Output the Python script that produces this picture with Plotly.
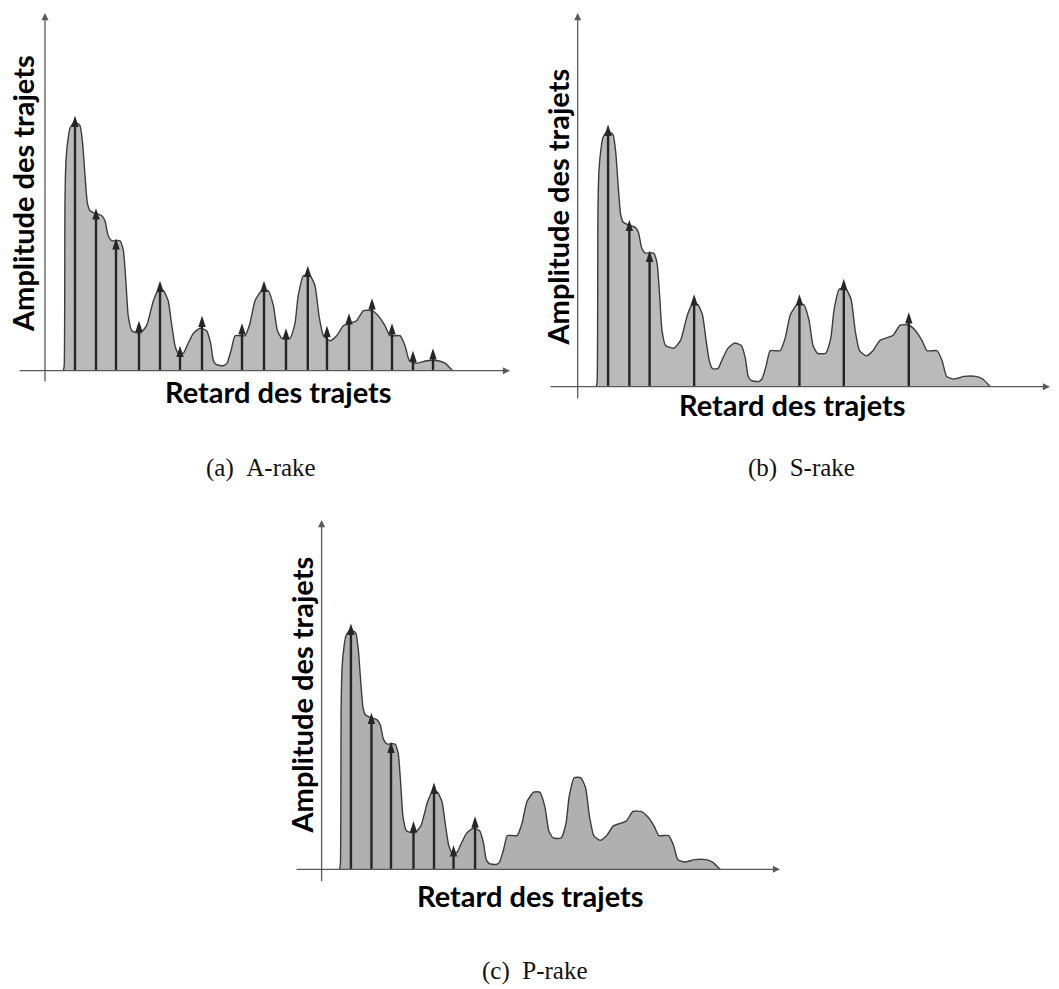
import plotly.graph_objects as go

# ---------------- data ----------------
# power-delay profile (arbitrary delay units, amplitude units)
delay = [4.6, 4.8, 5.0, 5.25, 5.7, 6.25, 7.1, 7.9, 8.75, 9.4, 10.0, 10.6, 11.25, 12.5, 14.2,
         15.0, 15.8, 16.7, 18.75, 19.6, 20.25, 20.8, 21.7, 23.75, 25.4, 27.1, 28.3, 29.6, 30.8,
         31.7, 32.5, 33.3, 34.6, 35.8, 37.1, 38.75, 40.4, 41.4, 42.1, 42.9, 44.6, 45.5, 46.5,
         47.5, 48.75, 50.0, 51.25, 52.5, 54.2, 55.8, 57.1, 58.1, 59.2, 61.25, 62.5, 63.3, 64.6,
         66.25, 67.5, 68.5, 69.6, 71.25, 72.9, 74.6, 76.25, 77.9, 79.6, 81.7, 83.3, 85.0, 86.25,
         88.75, 90.0, 91.1, 92.9, 95.4, 98.3, 100.0, 101.9]
amplitude = [0, 2, 68, 84, 92, 97, 99, 99, 98, 91, 78, 67, 64, 63, 62,
             60, 54, 52, 52, 48, 35, 22, 16, 15, 18, 28, 32, 32, 28,
             18, 10, 7, 7, 11, 15, 17, 16, 11, 4, 2.4, 2, 3, 8,
             14, 14, 14, 19, 28, 32, 32, 26, 16, 13, 13, 19, 30, 38,
             38, 34, 22, 14, 12, 14, 18, 19, 20, 24, 24, 22, 18, 14,
             14, 10, 4, 3, 4, 4, 3, 0]

# rake fingers (delay, amplitude at arrow tip)
a_rake_delay = [7.5, 12.75, 17.75, 23.5, 28.75, 33.75, 39.25, 49.25, 54.75, 60.25, 65.7, 70.5,
                76.0, 81.75, 86.75, 92.0, 97.0]
a_rake_amp = [102, 65, 53, 20, 36, 10, 22, 19, 36, 17, 42, 18, 23, 29, 19, 8, 9]
s_rake_delay = [7.5, 12.75, 17.75, 28.75, 54.75, 65.7, 81.75]
s_rake_amp = [102, 65, 53, 36, 36, 42, 29]
p_rake_delay = [7.5, 12.75, 17.75, 23.5, 28.75, 33.75, 39.25]
p_rake_amp = [102, 65, 53, 20, 36, 10, 22]

x_title = "Retard des trajets"
y_title = "Amplitude des trajets"
captions = ["(a)&nbsp;&nbsp;A-rake", "(b)&nbsp;&nbsp;S-rake", "(c)&nbsp;&nbsp;P-rake"]

# ---------------- layout geometry (reference pixels) ----------------
W, H = 1059, 989


def fx(px):
    return px / W


def fy(py):
    return 1 - py / H


panels = [
    dict(box=(5, 525, 5, 430), origin=(45, 370.7), sx=4.0, sy=2.5,
         xaxis_px=(18, 510), yaxis_px=(383, 13), fill="#bababa",
         fingers=(a_rake_delay, a_rake_amp),
         ylab=(23, 194), xlab=(278.5, 391), cap=(261, 468), cap_text=captions[0]),
    dict(box=(535, 1055, 5, 430), origin=(577.7, 386.7), sx=4.05, sy=2.57,
         xaxis_px=(549, 1050), yaxis_px=(400, 13), fill="#bababa",
         fingers=(s_rake_delay, s_rake_amp),
         ylab=(557, 207.5), xlab=(792, 405), cap=(801.5, 468), cap_text=captions[1]),
    dict(box=(280, 800, 505, 905), origin=(321.6, 869.3), sx=3.91, sy=2.41,
         xaxis_px=(295, 780), yaxis_px=(882.7, 520), fill="#b0b0b0",
         fingers=(p_rake_delay, p_rake_amp),
         ylab=(301, 695.5), xlab=(530, 895), cap=(535, 971), cap_text=captions[2]),
]

fig = go.Figure()
annotations = []
AX_COLOR = "#5a5a5a"
TITLE_FONT = dict(family="Lato", size=29, color="#000")

for i, p in enumerate(panels):
    n = "" if i == 0 else str(i + 1)
    xr, yr = "x" + n, "y" + n
    L, R, T, B = p["box"]
    ox, oy = p["origin"]
    sx, sy = p["sx"], p["sy"]
    fig.update_layout(**{
        "xaxis" + n: dict(domain=[fx(L), fx(R)], range=[(L - ox) / sx, (R - ox) / sx],
                          visible=False, fixedrange=True, anchor=yr),
        "yaxis" + n: dict(domain=[fy(B), fy(T)], range=[(oy - B) / sy, (oy - T) / sy],
                          visible=False, fixedrange=True, anchor=xr),
    })
    # profile
    fig.add_trace(go.Scatter(x=delay, y=amplitude, mode="lines", fill="tozeroy",
                             fillcolor=p["fill"],
                             line=dict(color="#3c3c3c", width=1.4, shape="spline", smoothing=0.5),
                             xaxis=xr, yaxis=yr, showlegend=False, hoverinfo="skip"))
    # finger stems
    fd, fa = p["fingers"]
    sxs, sys = [], []
    for d, a in zip(fd, fa):
        sxs += [d, d, None]
        sys += [0, a - 2, None]
    fig.add_trace(go.Scatter(x=sxs, y=sys, mode="lines",
                             line=dict(color="#262626", width=2.4),
                             xaxis=xr, yaxis=yr, showlegend=False, hoverinfo="skip"))
    fig.add_trace(go.Scatter(x=fd, y=fa, mode="markers",
                             marker=dict(symbol="arrow", size=12, color="#262626",
                                         line=dict(width=0)),
                             xaxis=xr, yaxis=yr, showlegend=False, hoverinfo="skip"))
    # axes with arrows
    x0, x1 = p["xaxis_px"]
    y0, y1 = p["yaxis_px"]
    annotations.append(dict(x=(x1 - ox) / sx, y=0, ax=(x0 - ox) / sx, ay=0,
                            xref=xr, yref=yr, axref=xr, ayref=yr, text="",
                            showarrow=True, arrowhead=2, arrowsize=1.1, arrowwidth=1.3,
                            arrowcolor=AX_COLOR, standoff=0, startstandoff=0))
    annotations.append(dict(x=0, y=(oy - y1) / sy, ax=0, ay=(oy - y0) / sy,
                            xref=xr, yref=yr, axref=xr, ayref=yr, text="",
                            showarrow=True, arrowhead=2, arrowsize=1.1, arrowwidth=1.3,
                            arrowcolor=AX_COLOR, standoff=0, startstandoff=0))
    # titles
    annotations.append(dict(x=fx(p["ylab"][0]), y=fy(p["ylab"][1]), xref="paper", yref="paper",
                            text="<b>" + y_title + "</b>", textangle=-90, showarrow=False,
                            xanchor="center", yanchor="middle", font=TITLE_FONT))
    annotations.append(dict(x=fx(p["xlab"][0]), y=fy(p["xlab"][1]), xref="paper", yref="paper",
                            text="<b>" + x_title + "</b>", showarrow=False,
                            xanchor="center", yanchor="middle", font=TITLE_FONT))
    annotations.append(dict(x=fx(p["cap"][0]), y=fy(p["cap"][1]), xref="paper", yref="paper",
                            text=p["cap_text"], showarrow=False,
                            xanchor="center", yanchor="middle",
                            font=dict(family="Liberation Serif", size=25, color="#111")))

fig.update_layout(width=W, height=H, margin=dict(l=0, r=0, t=0, b=0),
                  paper_bgcolor="white", plot_bgcolor="rgba(0,0,0,0)",
                  annotations=annotations, showlegend=False)

fig.write_html("out.html", config={"displayModeBar": False},
               post_script="document.body.style.margin='0px';"
                           "document.body.style.overflow='hidden';")
